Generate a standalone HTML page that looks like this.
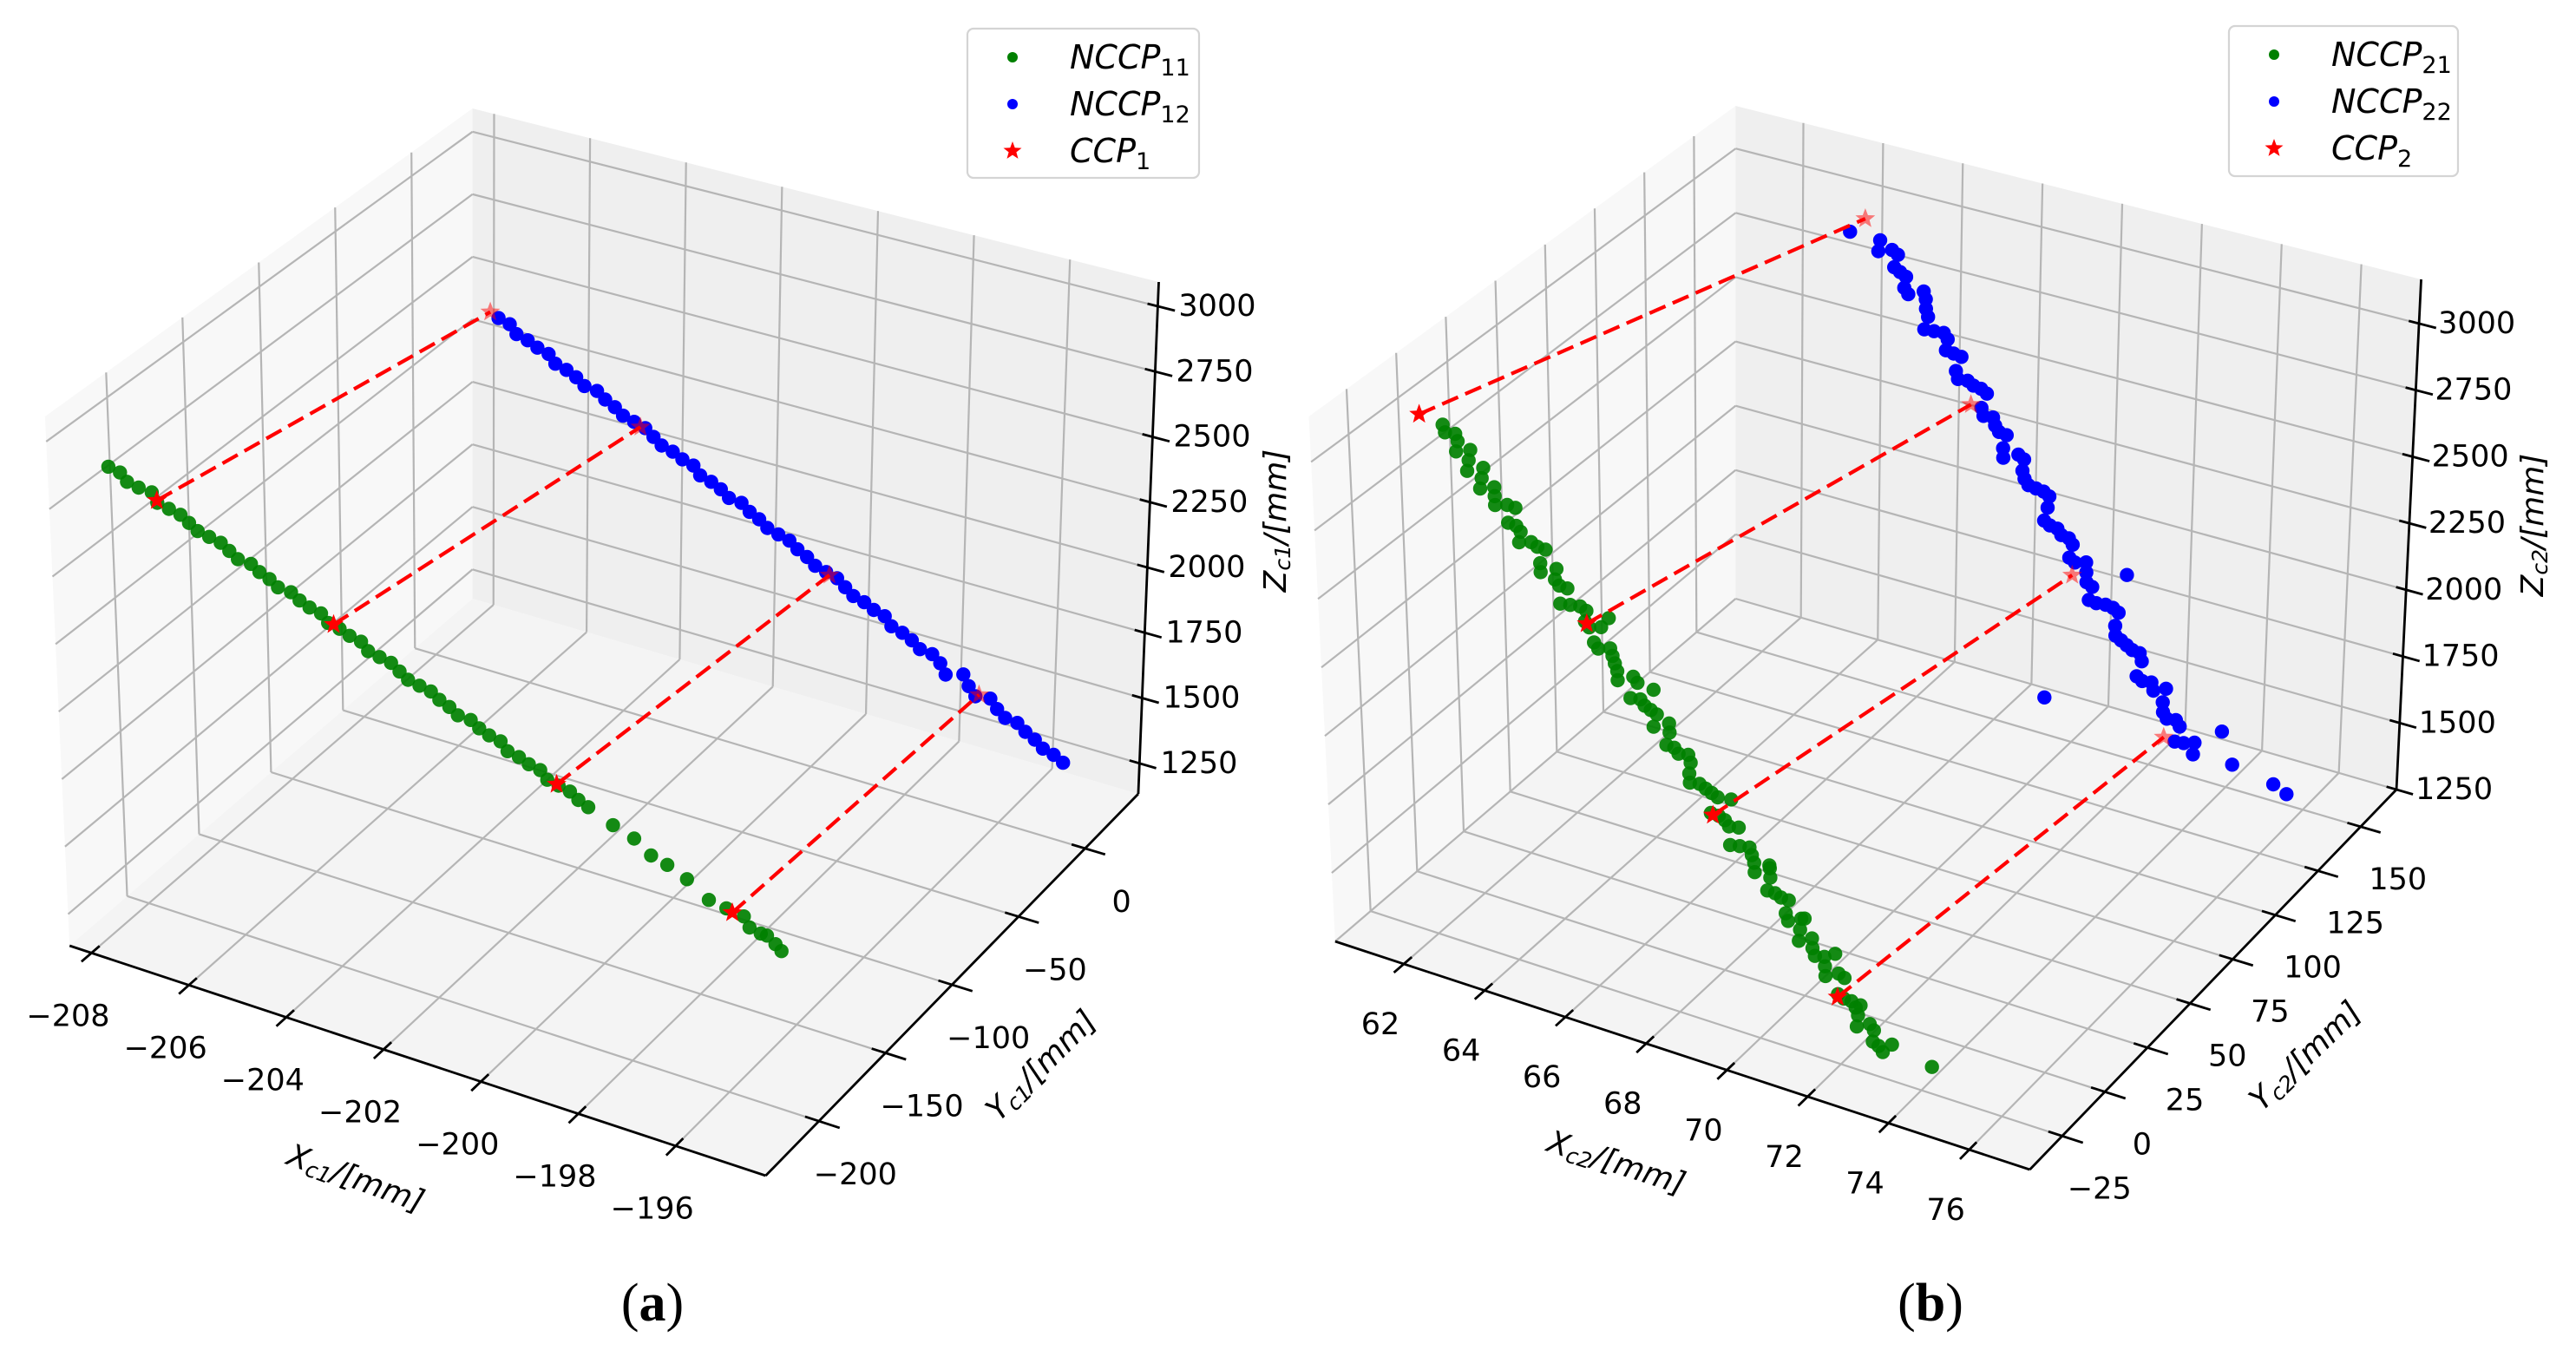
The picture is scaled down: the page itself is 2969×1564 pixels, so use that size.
<!DOCTYPE html>
<html><head><meta charset="utf-8"><style>
html,body{margin:0;padding:0;background:#fff;}
svg{display:block;}
</style></head><body>
<svg id="fig" xmlns="http://www.w3.org/2000/svg" width="2969" height="1564" viewBox="0 0 2969 1564" font-family="'DejaVu Sans','Liberation Sans',sans-serif">
<rect width="2969" height="1564" fill="#fff"/>
<g id="panelA"></g>
<g id="panelB"></g>
<text x="752" y="1522" font-family="'Liberation Serif',serif" font-size="62" text-anchor="middle">(<tspan font-weight="bold">a</tspan>)</text>
<text x="2225" y="1522" font-family="'Liberation Serif',serif" font-size="62" text-anchor="middle">(<tspan font-weight="bold">b</tspan>)</text>
</svg>
<script>
// ---------- Panel A data ----------
const aXTicks=[-208,-206,-204,-202,-200,-198,-196];
const aYTicks=[-200,-150,-100,-50,0];
const aZTicks=[1250,1500,1750,2000,2250,2500,2750,3000];
const aGreenX=[-208.1,-207.9,-207.7,-207.5,-207.3,-207.1,-206.9,-206.7,-206.5,-206.3,-206.1,-205.9,-205.7,-205.5,-205.3,-205.1,-204.9,-204.7,-204.5,-204.3,-204.1,-203.9,-203.7,-203.5,-203.3,-203.1,-202.9,-202.7,-202.5,-202.3,-202.1,-201.9,-201.7,-201.5,-201.3,-201.1,-200.9,-200.7,-200.5,-200.3,-200.1,-199.9,-199.7,-199.5,-199.3,-199.1,-198.9,-198.7,-198.5,-198.0,-197.6,-197.2,-196.9,-196.5,-196.0,-195.7,-195.4,-195.2,-195.0,-194.9,-194.7,-194.55];
const aGreenY=[-212,-211,-213,-212,-210,-213,-212,-211,-212,-213,-212,-211,-212,-213,-211,-212,-212,-213,-211,-212,-212,-211,-213,-212,-212,-211,-213,-212,-211,-212,-213,-212,-211,-212,-212,-213,-211,-212,-212,-211,-213,-212,-212,-211,-213,-212,-211,-212,-212,-212,-211,-213,-212,-212,-214,-212,-210,-213,-212,-211,-212,-213];
const aGreenZ=[2810,2795,2780,2765,2750,2735,2719,2704,2689,2674,2659,2644,2629,2614,2599,2584,2569,2554,2538,2523,2508,2493,2478,2463,2448,2433,2418,2403,2388,2372,2357,2342,2327,2312,2297,2282,2267,2252,2237,2222,2206,2191,2176,2161,2146,2131,2116,2101,2086,2048,2017,1987,1965,1935,1897,1874,1852,1837,1822,1815,1800,1788];
const aBlueX=[-205.1,-204.9,-204.7,-204.5,-204.3,-204.1,-203.9,-203.7,-203.5,-203.3,-203.1,-202.9,-202.7,-202.5,-202.3,-202.1,-201.9,-201.7,-201.5,-201.3,-201.1,-200.9,-200.7,-200.5,-200.3,-200.1,-199.9,-199.7,-199.5,-199.3,-199.1,-198.9,-198.7,-198.5,-198.3,-198.1,-197.9,-197.7,-197.5,-197.3,-197.1,-196.9,-196.7,-196.5,-196.3,-196.1,-195.9,-195.7,-195.5,-195.3,-195.1,-194.9,-194.7,-194.5,-194.3,-194.1,-193.9,-193.7,-193.5,-193.3];
const aBlueY=[-50,-49,-51,-50,-50,-49,-51,-50,-50,-51,-49,-50,-50,-51,-50,-49,-50,-51,-50,-50,-49,-51,-50,-50,-51,-49,-50,-50,-51,-50,-49,-50,-50,-51,-50,-49,-50,-51,-50,-50,-49,-51,-50,-50,-51,-49,-50,-53,-47,-50,-52,-48,-50,-51,-49,-50,-50,-51,-50,-50];
const aBlueZ=[2834,2816,2797,2779,2761,2742,2724,2706,2688,2669,2651,2633,2614,2596,2578,2560,2541,2523,2505,2486,2468,2450,2431,2413,2395,2377,2358,2340,2322,2303,2285,2267,2248,2230,2212,2194,2175,2157,2139,2120,2102,2084,2065,2047,2029,2011,1992,1974,1956,1937,1919,1901,1882,1864,1846,1828,1809,1791,1773,1754];
const aCcpGX=[-207.14,-203.62,-199.14,-195.58];
const aCcpGY=[-212,-212,-212,-212];
const aCcpGZ=[2737,2472,2134,1865];
const aCcpBX=[-205.27,-202.17,-198.23,-195.08];
const aCcpBY=[-50,-50,-50,-50];
const aCcpBZ=[2849,2565,2204,1916];

// ---------- Panel B data ----------
const bXTicks=[62,64,66,68,70,72,74,76];
const bYTicks=[-25,0,25,50,75,100,125,150];
const bZTicks=[1250,1500,1750,2000,2250,2500,2750,3000];
const bGreenX=[63.0,63.2,63.4,63.6,63.8,64.0,64.2,64.4,64.6,64.8,65.0,65.2,65.4,65.6,65.8,66.0,66.2,66.4,66.6,66.8,67.0,67.2,67.4,67.6,67.8,68.0,68.2,68.4,68.6,68.8,69.0,69.2,69.4,69.6,69.8,70.0,70.2,70.4,70.6,70.8,71.0,71.2,71.4,71.6,71.8,72.0,72.2,72.4,72.6,72.8,73.0,73.2,73.4,67.6,66.6,69.4,70.4,71.2,71.9,72.6,74.4,73.5,
 63.1,63.3,63.5,63.7,63.9,64.1,64.3,64.5,64.7,64.9,65.1,65.3,65.5,65.7,65.9,66.1,66.3,66.5,66.7,66.9,67.1,67.3,67.5,67.7,67.9,68.1,68.3,68.5,68.7,68.9,69.1,69.3,69.5,69.7,69.9,70.1,70.3,70.5,70.7,70.9,71.1,71.3,71.5,71.7,71.9,72.1,72.3,72.5,72.7,72.9,73.1,73.3];
const bGreenY=[-33,-31,-35,-33,-30,-36,-33,-31,-35,-33,-32,-29,-36,-33,-31,-34,-30,-33,-35,-31,-33,-36,-30,-33,-32,-35,-31,-33,-30,-34,-33,-31,-36,-33,-30,-34,-32,-35,-31,-33,-30,-35,-33,-31,-34,-33,-30,-35,-32,-33,-31,-34,-33,-26,-27,-25,-27,-26,-25,-27,-28,-30,
 -34,-32,-30,-36,-33,-31,-35,-29,-33,-36,-31,-34,-30,-33,-37,-31,-33,-29,-35,-32,-34,-30,-36,-33,-31,-29,-35,-33,-31,-36,-32,-30,-34,-33,-37,-31,-33,-29,-35,-32,-34,-30,-36,-33,-31,-35,-29,-34,-32,-36,-31,-33];
const bGreenZ=[3196,3161,3127,3093,3058,3024,2989,2955,2921,2886,2852,2817,2783,2749,2714,2680,2645,2611,2577,2542,2508,2473,2439,2405,2370,2336,2301,2267,2233,2198,2164,2129,2095,2061,2026,1992,1957,1923,1889,1854,1820,1785,1751,1717,1682,1648,1613,1579,1545,1510,1476,1441,1407,2400,2620,2080,1900,1740,1640,1500,1370,1420,
 3178,3144,3110,3075,3041,3006,2972,2938,2903,2869,2834,2800,2766,2731,2697,2662,2628,2594,2559,2525,2490,2456,2422,2387,2353,2318,2284,2250,2215,2181,2146,2112,2078,2043,2009,1974,1940,1906,1871,1837,1802,1768,1734,1699,1665,1630,1596,1562,1527,1493,1458,1424];
const bBlueX=[65.7,66.4,66.6,66.8,67.0,67.2,67.4,67.6,67.8,68.0,68.2,68.4,68.6,68.8,69.0,69.2,69.4,69.6,69.8,70.0,70.2,70.4,70.6,70.8,71.0,71.2,71.4,71.6,71.8,72.0,72.2,72.4,72.6,72.8,73.0,73.2,73.4,73.6,73.8,74.0,74.2,74.4,75.4,76.5,76.8,74.9,71.0,72.4,
 66.5,66.7,66.9,67.1,67.3,67.5,67.7,67.9,68.1,68.3,68.5,68.7,68.9,69.1,69.3,69.5,69.7,69.9,70.1,70.3,70.5,70.7,70.9,71.1,71.3,71.5,71.7,71.9,72.1,72.3,72.5,72.7,72.9,73.1,73.3,73.5,73.7,73.9,74.1,74.3];
const bBlueY=[119,120,122,119,121,118,123,120,119,122,121,118,120,123,119,121,120,118,122,120,119,123,121,118,120,122,119,121,120,118,123,120,119,121,122,118,120,121,119,122,120,121,121,120,121,126,112,126,
 117,123,120,118,124,121,116,122,119,123,117,121,124,118,120,122,116,123,119,121,124,117,120,122,118,123,119,116,121,124,118,120,123,117,121,125,119,122,117,124];
const bBlueZ=[3190,3180,3140,3100,3060,3020,2980,2939,2899,2859,2819,2779,2739,2699,2659,2619,2579,2538,2498,2458,2418,2378,2338,2298,2258,2218,2178,2137,2097,2057,2017,1977,1937,1897,1857,1817,1777,1736,1696,1656,1616,1576,1580,1560,1530,1650,1700,2130,
 3160,3120,3080,3040,3000,2960,2919,2879,2839,2799,2759,2719,2679,2639,2599,2559,2518,2478,2438,2398,2358,2318,2278,2238,2198,2158,2117,2077,2037,1997,1957,1917,1877,1837,1797,1757,1716,1676,1636,1596];
const bCcpGX=[62.44,66.34,69.31,72.30];
const bCcpGY=[-33,-33,-33,-33];
const bCcpGZ=[3210,2622,2066,1552];
const bCcpBX=[66.03,68.69,71.29,73.69];
const bCcpBY=[120,120,120,120];
const bCcpBZ=[3247,2653,2120,1616];

const NS='http://www.w3.org/2000/svg';
function el(tag,attrs,parent){const e=document.createElementNS(NS,tag);for(const k in attrs)e.setAttribute(k,attrs[k]);parent.appendChild(e);return e;}

function makeProj(cfg){
  const C=cfg.C;
  return function(X,Y,Z){
    const u=(X-cfg.xr[0])/(cfg.xr[1]-cfg.xr[0]);
    const v=(Y-cfg.yr[0])/(cfg.yr[1]-cfg.yr[0]);
    const w=(Z-cfg.zr[0])/(cfg.zr[1]-cfg.zr[0]);
    return projN(u,v,w);
  };
  function projN(u,v,w){
    let x=0,y=0;
    for(let i=0;i<2;i++)for(let j=0;j<2;j++)for(let k=0;k<2;k++){
      const wt=(i?u:1-u)*(j?v:1-v)*(k?w:1-w);
      const p=C[''+i+j+k];x+=wt*p[0];y+=wt*p[1];
    }
    return [cfg.ox+x/cfg.sx,y];
  }
}
function projUVW(cfg,u,v,w){
  const f=makeProj(cfg);
  return f(cfg.xr[0]+u*(cfg.xr[1]-cfg.xr[0]),cfg.yr[0]+v*(cfg.yr[1]-cfg.yr[0]),cfg.zr[0]+w*(cfg.zr[1]-cfg.zr[0]));
}
function starPath(cx,cy,R){
  const r=R*0.42;let d='';
  for(let i=0;i<10;i++){const a=-Math.PI/2+i*Math.PI/5;const rr=i%2?r:R;d+=(i?'L':'M')+(cx+rr*Math.cos(a)).toFixed(1)+' '+(cy+rr*Math.sin(a)).toFixed(1);}
  return d+'Z';
}
function fmt(v){return v<0?'\u2212'+Math.abs(v):''+v;}

function drawPanel(g,cfg,d){
  const P=makeProj(cfg);
  const nx=x=>(x-cfg.xr[0])/(cfg.xr[1]-cfg.xr[0]);
  const ny=y=>(y-cfg.yr[0])/(cfg.yr[1]-cfg.yr[0]);
  const nz=z=>(z-cfg.zr[0])/(cfg.zr[1]-cfg.zr[0]);
  const q=(u,v,w)=>projUVW(cfg,u,v,w);
  const poly=pts=>pts.map(p=>p[0].toFixed(1)+','+p[1].toFixed(1)).join(' ');
  const pl=el('polygon',{points:poly([q(0,0,0),q(0,1,0),q(0,1,1),q(0,0,1)]),fill:'#f8f8f8'},g);
  
  const pr=el('polygon',{points:poly([q(0,1,0),q(1,1,0),q(1,1,1),q(0,1,1)]),fill:'#efefef'},g);
  
  const pf=el('polygon',{points:poly([q(0,0,0),q(1,0,0),q(1,1,0),q(0,1,0)]),fill:'#f4f4f4'},g);
  
  const grid=el('g',{stroke:'#b5b5b5','stroke-width':2.2,fill:'none'},g);
  
  const line=(a,b,par,attrs)=>{const l=el('line',Object.assign({x1:a[0],y1:a[1],x2:b[0],y2:b[1]},attrs||{}),par);return l;};
  d.yt.forEach(t=>{const v=ny(t);line(q(0,v,0),q(0,v,1),grid);line(q(0,v,0),q(1,v,0),grid);});
  d.zt.forEach(t=>{const w=nz(t);line(q(0,0,w),q(0,1,w),grid);line(q(0,1,w),q(1,1,w),grid);});
  d.xt.forEach(t=>{const u=nx(t);line(q(u,1,0),q(u,1,1),grid);line(q(u,0,0),q(u,1,0),grid);});
  const ax=el('g',{stroke:'#000','stroke-width':2.8},g);
  
  line(q(0,0,0),q(1,0,0),ax);line(q(1,0,0),q(1,1,0),ax);line(q(1,1,0),q(1,1,1),ax);
  const lab=el('g',{'font-size':35,fill:'#000'},g);
  
  d.xt.forEach(t=>{const u=nx(t);line(q(u,-0.025,0),q(u,0.02,0),ax);const p=q(u,0,0);
    const tx=el('text',{x:p[0]+cfg.xo[0],y:p[1]+cfg.xo[1],'text-anchor':'middle','dominant-baseline':'central'},lab);tx.textContent=fmt(t);
    });
  d.yt.forEach(t=>{const v=ny(t);line(q(0.98,v,0),q(1.03,v,0),ax);const p=q(1,v,0);
    const tx=el('text',{x:p[0]+cfg.yo[0],y:p[1]+cfg.yo[1],'text-anchor':'middle','dominant-baseline':'central'},lab);tx.textContent=fmt(t);
    });
  d.zt.forEach(t=>{const w=nz(t);line(q(0.985,1,w),q(1.025,1,w),ax);const p=q(1,1,w);
    const tx=el('text',{x:p[0]+cfg.zo,y:p[1],'text-anchor':'start','dominant-baseline':'central'},lab);tx.textContent=fmt(t);
    });
  const gs=el('g',{fill:'#008000'},g);
  d.gx.forEach((x,i)=>{const p=P(x,d.gy[i],d.gz[i]);const c=el('circle',{cx:p[0].toFixed(1),cy:p[1].toFixed(1),r:8.2,'fill-opacity':0.92},gs);
    });
  const bs=el('g',{fill:'#0000ff'},g);
  d.bx.forEach((x,i)=>{const p=P(x,d.by[i],d.bz[i]);const c=el('circle',{cx:p[0].toFixed(1),cy:p[1].toFixed(1),r:8.2},bs);
    });
  const cs=el('g',{},g);
  d.cgx.forEach((x,i)=>{const a=P(x,d.cgy[i],d.cgz[i]);const b=P(d.cbx[i],d.cby[i],d.cbz[i]);
    const l=el('line',{x1:a[0],y1:a[1],x2:b[0],y2:b[1],stroke:'#ff0000','stroke-width':4.2,'stroke-dasharray':'20 9'},cs);
    
    const s1=el('path',{d:starPath(a[0],a[1],12),fill:'#ff0000'},cs);
    
    const s2=el('path',{d:starPath(b[0],b[1],12),fill:'#ff0000','fill-opacity':0.5},cs);
    });
}

const cfgA={ox:0,sx:1.0595,xr:[-208.45,-194.15],yr:[-240,40],zr:[1133,3093],
  C:{'000':[85,1090],'100':[935,1355],'110':[1390,915],'010':[577,690],'001':[55,480],'101':[930,725],'111':[1415,325],'011':[577,125]},
  xo:[-27,73],yo:[42,62],zo:24};
const cfgB={ox:1480,sx:1.053,xr:[60.3,77.5],yr:[-44,171],zr:[1250,3166],
  C:{'000':[62,1085],'100':[905,1348],'110':[1350,910],'010':[548,690],'001':[30,480],'101':[900,720],'111':[1380,322],'011':[548,122]},
  xo:[-27,70],yo:[43,61],zo:22};

drawPanel(document.getElementById('panelA'),cfgA,{xt:aXTicks,yt:aYTicks,zt:aZTicks,gx:aGreenX,gy:aGreenY,gz:aGreenZ,bx:aBlueX,by:aBlueY,bz:aBlueZ,
  cgx:aCcpGX,cgy:aCcpGY,cgz:aCcpGZ,cbx:aCcpBX,cby:aCcpBY,cbz:aCcpBZ,gName:'nccp11-series',bName:'nccp12-series'});
drawPanel(document.getElementById('panelB'),cfgB,{xt:bXTicks,yt:bYTicks,zt:bZTicks,gx:bGreenX,gy:bGreenY,gz:bGreenZ,bx:bBlueX,by:bBlueY,bz:bBlueZ,
  cgx:bCcpGX,cgy:bCcpGY,cgz:bCcpGZ,cbx:bCcpBX,cby:bCcpBY,cbz:bCcpBZ,gName:'nccp21-series',bName:'nccp22-series'});

const fig=document.getElementById('fig');
function axisTitle(name,x,y,rot,main,sub){
  const t=el('text',{x:x,y:y,'font-size':36,'font-style':'italic','text-anchor':'middle','dominant-baseline':'central',transform:'rotate('+rot+' '+x+' '+y+')'},fig);
  
  const a=el('tspan',{},t);a.textContent=main;
  const b=el('tspan',{'font-size':25,dy:8},t);b.textContent=sub;
  const c=el('tspan',{dy:-8},t);c.textContent='/[mm]';
}
axisTitle('x-axis-title-a',410,1358,20,'X','c1');
axisTitle('y-axis-title-a',1200,1228,-45,'Y','c1');
axisTitle('z-axis-title-a',1470,600,-90,'Z','c1');
axisTitle('x-axis-title-b',1863,1340,18,'X','c2');
axisTitle('y-axis-title-b',2657,1217,-44,'Y','c2');
axisTitle('z-axis-title-b',2919,605,-90,'Z','c2');

function legend(name,bx,by,bw,bh,labels){
  const g=el('g',{},fig);
  el('rect',{x:bx,y:by,width:bw,height:bh,rx:7,fill:'#fff','fill-opacity':0.85,stroke:'#d4d4d4','stroke-width':2.2},g);
  const cols=['#008000','#0000ff','#ff0000'];
  labels.forEach((lb,i)=>{
    const cy=by+33+i*54, mx=bx+52;
    if(i<2){const c=el('circle',{cx:mx,cy:cy,r:6,fill:cols[i]},g);}
    else{const s=el('path',{d:starPath(mx,cy,11),fill:cols[i]},g);}
    const t=el('text',{x:bx+118,y:cy+13,'font-size':38,'font-style':'italic'},g);
    
    const a=el('tspan',{},t);a.textContent=lb[0];
    const b=el('tspan',{'font-size':27,dy:8,'font-style':'normal'},t);b.textContent=lb[1];
  });
}
legend('legend-a',1115,33,267,172,[['NCCP','11'],['NCCP','12'],['CCP','1']]);
legend('legend-b',2569,30,264,173,[['NCCP','21'],['NCCP','22'],['CCP','2']]);
</script>
</body></html>
